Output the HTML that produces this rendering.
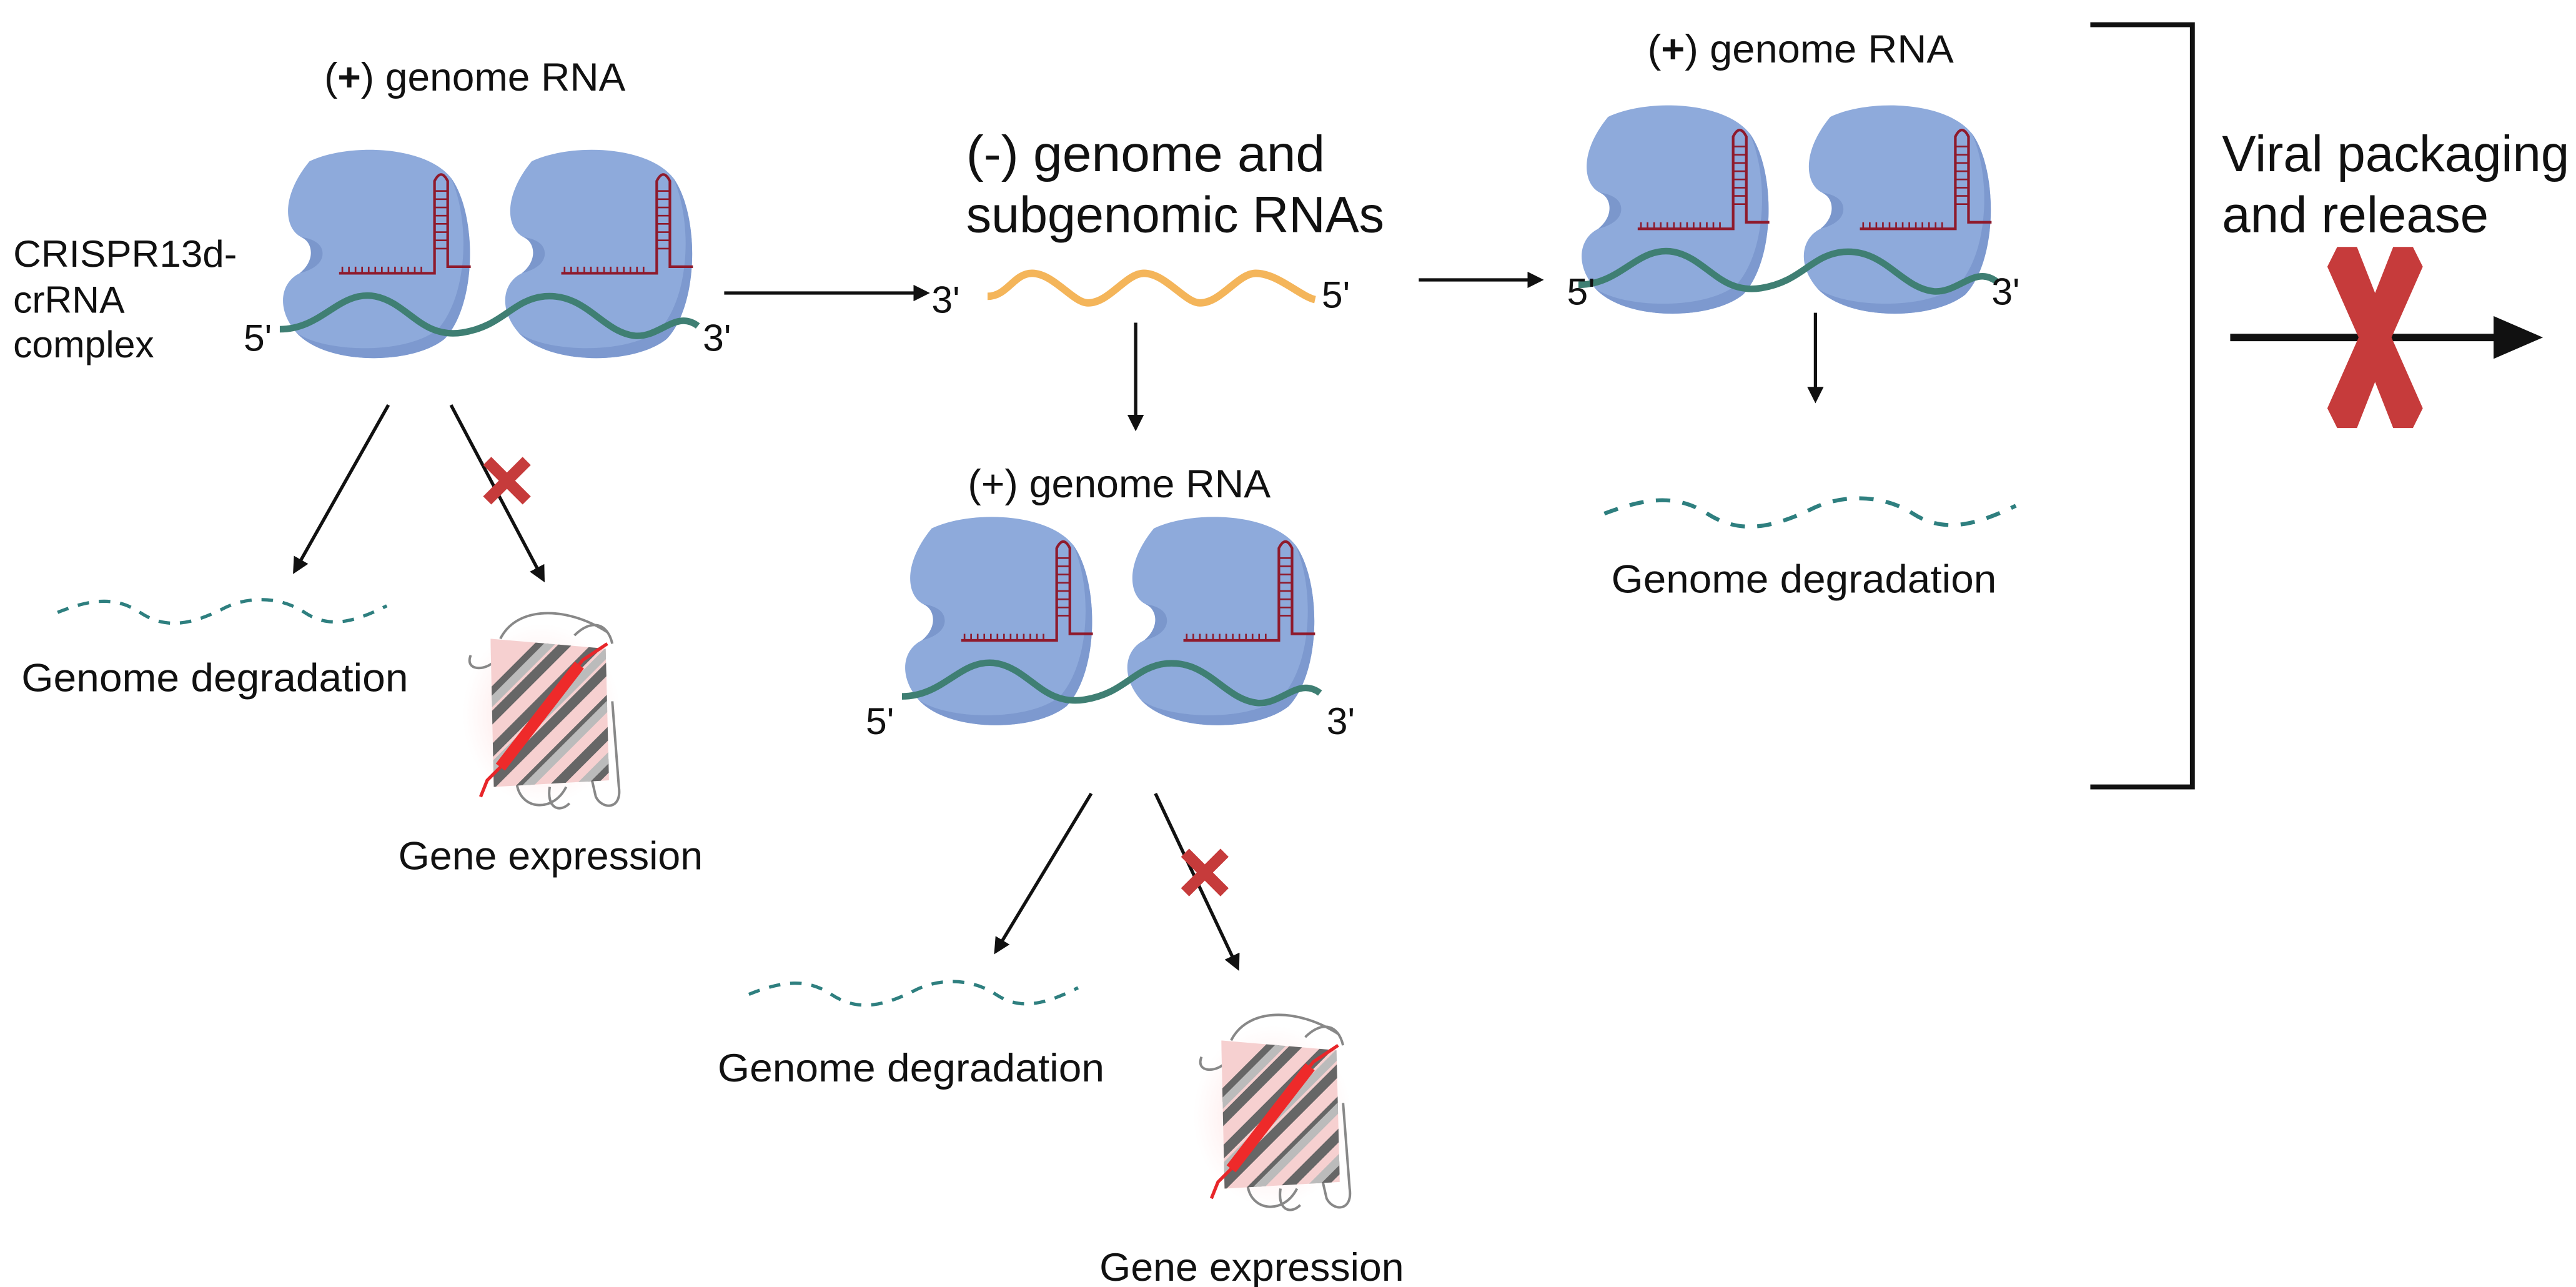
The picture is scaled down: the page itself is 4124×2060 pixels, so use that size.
<!DOCTYPE html>
<html><head><meta charset="utf-8"><style>
html,body{margin:0;padding:0;background:#fff;}
svg{display:block;}
text{font-family:"Liberation Sans",sans-serif;fill:#111;}
</style></head><body>
<svg width="4124" height="2060" viewBox="0 0 4124 2060" xmlns="http://www.w3.org/2000/svg">
<defs>
<marker id="ah" viewBox="0 0 10 10" refX="8" refY="5" markerWidth="5" markerHeight="5" orient="auto"><path d="M0,0 L10,5 L0,10 Z" fill="#111"/></marker>
<g id="blob">
<path d="M22,8 C45,-3 92,-2 108,18 C124,40 124,95 104,116 C84,132 32,132 14,112 C2,98 4,82 16,76 C26,72 28,60 17,54 C7,49 4,30 22,8 Z" fill="#8eaadb"/>
<path d="M104,116 C84,132 32,132 14,112 C30,124 80,126 100,110 C118,90 120,45 108,18 C124,40 124,95 104,116 Z" fill="#7d99cf"/>
<path d="M17,54 C24,57 26,68 16,76 C24,74 30,70 30,64 C30,58 24,55 17,54Z" fill="#7b97cc"/>
<g stroke="#8f1a2c" stroke-width="1.6" fill="none">
<path d="M40,76 L98,76 L98,20 Q102,12 106,20 L106,72 L120,72"/>
<path d="M42,76v-4M46,76v-4M50,76v-4M54,76v-4M58,76v-4M62,76v-4M66,76v-4M70,76v-4M74,76v-4M78,76v-4M82,76v-4M86,76v-4M90,76v-4" stroke-width="1"/>
<path d="M98,26h8M98,31h8M98,36h8M98,41h8M98,46h8M98,51h8M98,56h8M98,61h8" stroke-width="1"/>
</g>
</g>
<g id="complex">
<use href="#blob" x="0" y="0"/>
<use href="#blob" x="135" y="0"/>
<path d="M4,110 C30,110 40,86 62,90 C82,94 90,116 115,112 C140,108 145,92 165,90 C190,88 200,112 220,114 C235,115 245,98 258,108" stroke="#3f7f73" stroke-width="4" fill="none"/>
</g>
<g id="dash">
<path d="M0,8 C20,0 35,-2 50,8 C65,18 80,16 100,6 C115,-2 135,-2 150,8 C165,18 180,14 200,4" stroke="#2e7f7f" stroke-width="2" stroke-dasharray="7,6" fill="none"/>
</g>
<clipPath id="barrel"><path d="M24,22 L94,28 L96,108 L26,112 Z"/></clipPath>
<radialGradient id="glow"><stop offset="0" stop-color="#ffb5b5" stop-opacity="0.6"/><stop offset="1" stop-color="#ffd0d0" stop-opacity="0"/></radialGradient>
<g id="protein">
<ellipse cx="55" cy="68" rx="48" ry="55" fill="url(#glow)"/>
<path d="M30,22 C40,2 70,2 95,18 M12,32 C8,42 22,42 28,34 M85,105 L88,118 C92,126 104,126 102,112 L98,60 M40,110 C42,126 62,128 70,112 M75,20 C85,10 95,12 98,25 M60,112 C58,125 66,128 72,122" stroke="#888" stroke-width="1.5" fill="none"/>
<g clip-path="url(#barrel)">
<rect x="10" y="10" width="90" height="110" fill="#f6d0d0"/>
<g stroke="#666" stroke-width="6">
<path d="M0,80 L80,0M0,95 L95,0M5,110 L110,5M15,120 L120,15M30,125 L125,30M45,130 L130,45M60,135 L135,60"/>
</g>
<g stroke="#bbb" stroke-width="5">
<path d="M-5,90 L90,-5M10,115 L115,10M30,128 L128,30M50,140 L140,50"/>
</g>
</g>
<path d="M18,118 L22,108 L30,100 L80,35 L95,25" stroke="#e8262a" stroke-width="2" fill="none"/>
<path d="M30,100 L78,38" stroke="#ee2a2a" stroke-width="7"/>
</g>
<g id="redx">
<path d="M-10,-14 L14,10 M14,-14 L-10,10" stroke="#c63b3b" stroke-width="7"/>
</g>
</defs>
<g transform="scale(2.635)">
<!-- Left group -->
<text x="197" y="55" font-size="24" textLength="183" lengthAdjust="spacingAndGlyphs">(<tspan font-weight="bold">+</tspan>) genome RNA</text>
<text x="8" y="162" font-size="23" textLength="136" lengthAdjust="spacingAndGlyphs">CRISPR13d-</text>
<text x="8" y="190" font-size="23">crRNA</text>
<text x="8" y="217" font-size="23">complex</text>
<use href="#complex" x="166" y="90"/>
<text x="148" y="213" font-size="23">5'</text>
<text x="427" y="213" font-size="23">3'</text>
<line x1="236" y1="246" x2="179" y2="347" stroke="#111" stroke-width="2" marker-end="url(#ah)"/>
<line x1="274" y1="246" x2="330" y2="352" stroke="#111" stroke-width="2" marker-end="url(#ah)"/>
<use href="#redx" x="306" y="294"/>
<use href="#dash" x="35" y="364"/>
<text x="13" y="420" font-size="24" textLength="235" lengthAdjust="spacingAndGlyphs">Genome degradation</text>
<use href="#protein" x="274" y="366"/>
<text x="242" y="528" font-size="24" textLength="185" lengthAdjust="spacingAndGlyphs">Gene expression</text>

<!-- Middle -->
<line x1="440" y1="178" x2="563" y2="178" stroke="#111" stroke-width="2" marker-end="url(#ah)"/>
<text x="587" y="104" font-size="31" textLength="218" lengthAdjust="spacingAndGlyphs">(-) genome and</text>
<text x="587" y="141" font-size="31" textLength="254" lengthAdjust="spacingAndGlyphs">subgenomic RNAs</text>
<text x="566" y="190" font-size="23">3'</text>
<path d="M600,180 C612,180 616,166 627,166 C640,166 652,184 661,184 C674,184 684,166 695,166 C708,166 720,184 729,184 C742,184 752,166 763,166 C776,166 790,180 799,182" stroke="#f4b55a" stroke-width="4.5" fill="none"/>
<text x="803" y="187" font-size="23">5'</text>
<line x1="690" y1="196" x2="690" y2="260" stroke="#111" stroke-width="2" marker-end="url(#ah)"/>
<text x="588" y="302" font-size="24" textLength="184" lengthAdjust="spacingAndGlyphs">(+) genome RNA</text>
<use href="#complex" x="544" y="313"/>
<text x="526" y="446" font-size="23">5'</text>
<text x="806" y="446" font-size="23">3'</text>
<line x1="663" y1="482" x2="605" y2="578" stroke="#111" stroke-width="2" marker-end="url(#ah)"/>
<line x1="702" y1="482" x2="752" y2="588" stroke="#111" stroke-width="2" marker-end="url(#ah)"/>
<use href="#redx" x="730" y="532"/>
<use href="#dash" x="455" y="596"/>
<text x="436" y="657" font-size="24" textLength="235" lengthAdjust="spacingAndGlyphs">Genome degradation</text>
<use href="#protein" x="718" y="610"/>
<text x="668" y="778" font-size="24" textLength="185" lengthAdjust="spacingAndGlyphs">Gene expression</text>

<!-- Right -->
<line x1="862" y1="170" x2="936" y2="170" stroke="#111" stroke-width="2" marker-end="url(#ah)"/>
<text x="1001" y="38" font-size="24" textLength="186" lengthAdjust="spacingAndGlyphs">(<tspan font-weight="bold">+</tspan>) genome RNA</text>
<use href="#complex" x="955" y="63"/>
<text x="952" y="185" font-size="23">5'</text>
<text x="1210" y="185" font-size="23">3'</text>
<line x1="1103" y1="190" x2="1103" y2="243" stroke="#111" stroke-width="2" marker-end="url(#ah)"/>
<use href="#dash" x="975" y="302" transform="translate(-244 -60) scale(1.25 1.2)"/>
<text x="979" y="360" font-size="24" textLength="234" lengthAdjust="spacingAndGlyphs">Genome degradation</text>

<path d="M1270,15 L1332,15 L1332,478 L1270,478" stroke="#111" stroke-width="3" fill="none"/>
<text x="1350" y="104" font-size="31" textLength="211" lengthAdjust="spacingAndGlyphs">Viral packaging</text>
<text x="1350" y="141" font-size="31">and release</text>
<line x1="1355" y1="205" x2="1520" y2="205" stroke="#111" stroke-width="4.5"/>
<path d="M1515,192 L1545,205 L1515,218 Z" fill="#111"/>
<path d="M1420,150 L1432,150 L1443,178 L1454,150 L1466,150 L1472,162 L1453,205 L1472,248 L1466,260 L1454,260 L1443,232 L1432,260 L1420,260 L1414,248 L1433,205 L1414,162 Z" fill="#c63b3b"/>
</g>
</svg>
</body></html>
